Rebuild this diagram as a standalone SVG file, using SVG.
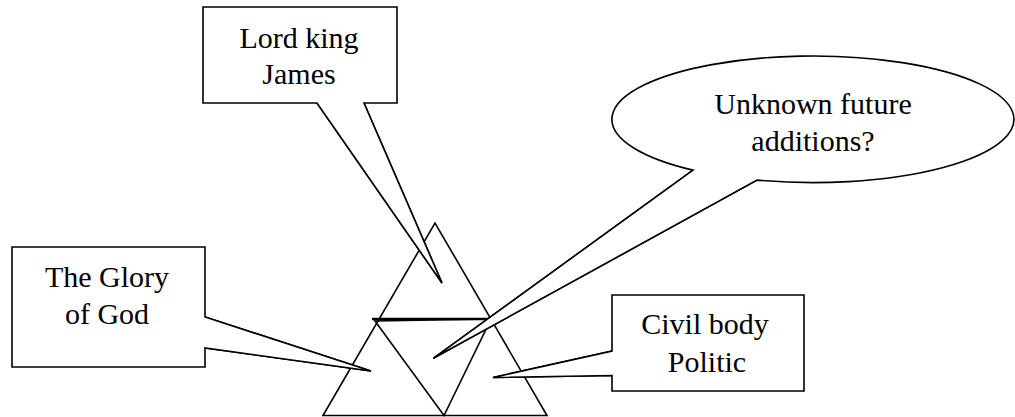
<svg xmlns="http://www.w3.org/2000/svg" width="1015" height="417" viewBox="0 0 1015 417">
  <style>
    .bg { fill: #ffffff; }
    .edge { fill: none; stroke: #000000; stroke-width: 1.6; stroke-linejoin: miter; }
    .bar { fill: none; stroke: #000000; stroke-width: 2.4; }
    .callout { fill: #ffffff; stroke: #000000; stroke-width: 1.6; stroke-linejoin: miter; }
    .label { font-family: "Liberation Serif", "Times New Roman", serif; font-size: 30px; fill: #000000; text-anchor: middle; }
  </style>
  <rect class="bg" x="0" y="0" width="1015" height="417"/>

  <!-- triangle figure -->
  <g id="triangle">
    <polygon class="edge" points="323,415.5 435,223 547,415.5"/>
    <polygon class="edge" points="375,321 444,415.5 491,319"/>
    <line class="bar" x1="372" y1="319" x2="490" y2="319"/>
  </g>

  <!-- callout pointers (tails drawn as part of each bubble outline) -->
  <g id="connectors">
    <path id="tail-lord" class="callout" d="M364,103 L442,283 L317,103" />
    <path id="tail-glory" class="callout" d="M205,317 L371,371 L205,348" />
    <path id="tail-civil" class="callout" d="M612,351 L493,377.5 L612,375.5" />
    <path id="tail-unknown" class="callout" d="M693,170.1 L433.3,358.3 L757,180.1" />
  </g>

  <g id="node-lord">
    <path class="callout" d="M203,7 H397 V103 H364 L442,283 L317,103 H203 Z"/>
    <text class="label" x="299" y="48">Lord king</text>
    <text class="label" x="299" y="84">James</text>
  </g>

  <g id="node-glory">
    <path class="callout" d="M12,247 H205 V317 L371,371 L205,348 V367 H12 Z"/>
    <text class="label" x="107" y="287">The Glory</text>
    <text class="label" x="107" y="324">of God</text>
  </g>

  <g id="node-civil">
    <path class="callout" d="M612,295 H804 V391 H612 V375.5 L493,377.5 L612,351 Z"/>
    <text class="label" x="705" y="334">Civil body</text>
    <text class="label" x="707" y="372">Politic</text>
  </g>

  <g id="node-unknown">
    <path class="callout" d="M693,170.1 L433.3,358.3 L757,180.1 A201,63.3 0 1 0 693,170.1 Z"/>
    <text class="label" x="813" y="114">Unknown future</text>
    <text class="label" x="813" y="151">additions?</text>
  </g>
</svg>
